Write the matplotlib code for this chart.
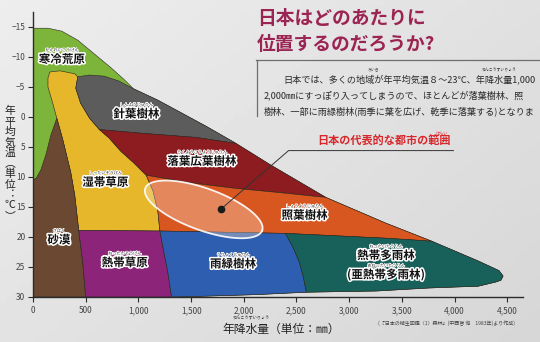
import numpy as np
import matplotlib
matplotlib.use("Agg")
import matplotlib.pyplot as plt
from matplotlib.patches import Polygon
import matplotlib.patheffects as pe

plt.rcParams['font.family'] = ['Noto Sans CJK JP', 'DejaVu Sans']

# 植生帯の境界 (年降水量 mm, 年平均気温 ℃)
outline = [(0, -14.8), (142, -14.8), (274, -14.3), (425, -12.8), (583, -10.5),
           (741, -8.2), (861, -6.3), (954, -4.7), (1185, -2.8), (1417, -0.6),
           (1648, 1.6), (1926, 4.4), (2255, 8.0), (2779, 13.4), (3349, 17.7),
           (3784, 20.7), (4225, 24.0), (4422, 25.6), (4461, 26.5), (4441, 27.2),
           (4392, 27.5), (4225, 28.2), (3755, 28.5), (3260, 29.0), (2594, 29.2),
           (2120, 29.6), (1556, 29.9), (1315, 30), (0, 30)]
conifer = [(425, -6.7), (537, -7.0), (676, -6.8), (815, -6.0), (954, -4.7),
           (1185, -2.8), (1417, -0.6), (1648, 1.6), (1926, 4.4), (1545, 3.4),
           (1093, 2.8), (630, 2.1), (537, 0.2), (452, -2.3), (406, -4.8)]
deciduous = [(630, 2.1), (1093, 2.8), (1545, 3.4), (1926, 4.4), (2255, 8.0),
             (2779, 13.4), (2396, 12.7), (1926, 11.9), (1463, 10.9), (1074, 9.7),
             (954, 7.6), (833, 5.7), (722, 3.5)]
laurel = [(1074, 9.7), (1463, 10.9), (1926, 11.9), (2396, 12.7), (2779, 13.4),
          (3349, 17.7), (3784, 20.7), (3349, 20.2), (2875, 19.8), (2396, 19.4),
          (1204, 19.0), (1185, 15.7), (1139, 12.3)]
steppe = [(160, -7.5), (255, -7.7), (396, -7.2), (425, -6.7), (406, -4.8),
          (452, -2.3), (537, 0.2), (630, 2.1), (722, 3.5), (833, 5.7), (954, 7.6),
          (1074, 9.7), (1139, 12.3), (1185, 15.7), (1204, 19.0), (434, 18.9),
          (396, 13.0), (358, 9.2), (330, 7.2), (283, 3.8), (226, 0.2),
          (179, -2.8), (142, -5.0), (142, -6.5)]
desert = [(226, 0.2), (283, 3.8), (330, 7.2), (358, 9.2), (396, 13.0), (434, 18.9),
          (472, 24.2), (500, 30), (0, 30), (0, 10.5), (30, 10.2), (75, 8.8),
          (122, 6.3), (170, 3.0)]
savanna = [(434, 18.9), (1204, 19.0), (1241, 22.4), (1278, 25.7), (1315, 30),
           (500, 30), (472, 24.2)]
raingreen = [(1204, 19.0), (2396, 19.4), (2467, 21.7), (2528, 24.2), (2566, 26.7),
             (2594, 29.2), (2120, 29.6), (1556, 29.9), (1315, 30), (1278, 25.7),
             (1241, 22.4)]
rainforest = [(2396, 19.4), (2875, 19.8), (3349, 20.2), (3784, 20.7), (4225, 24.0),
              (4422, 25.6), (4461, 26.5), (4441, 27.2), (4392, 27.5), (4225, 28.2),
              (3755, 28.5), (3260, 29.0), (2594, 29.2), (2566, 26.7), (2528, 24.2),
              (2467, 21.7)]

zones = [
    (outline, '#7db43a'),
    (steppe, '#e6b62b'),
    (conifer, '#5c5c5c'),
    (deciduous, '#8d1c20'),
    (laurel, '#d8561f'),
    (desert, '#6b4831'),
    (savanna, '#8c2479'),
    (raingreen, '#2e5eaf'),
    (rainforest, '#18605a'),
]

# ラベル: (文字, ふりがな, 降水量, 気温)
labels = [
    ('寒冷荒原', 'かんれいこうげん', 273, -9.6),
    ('針葉樹林', 'しんようじゅりん', 981, -0.5),
    ('落葉広葉樹林', 'らくようこうようじゅりん', 1602, 7.4),
    ('湿帯草原', 'しったいそうげん', 686, 10.9),
    ('照葉樹林', 'しょうようじゅりん', 2577, 16.4),
    ('砂漠', 'さばく', 245, 20.5),
    ('熱帯草原', 'ねったいそうげん', 870, 24.3),
    ('雨緑樹林', 'うりょくじゅりん', 1898, 24.5),
    ('熱帯多雨林', 'ねったいたうりん', 3349, 23.1),
    ('(亜熱帯多雨林)', 'あねったいたうりん', 3349, 26.3),
]

# 日本の代表的な都市の範囲 (楕円)
city_center = (1620, 15.4)
city_major = (555, 3.5)
city_minor = (-65, 3.3)
city_dot = (1787, 15.3)
leader_corner = (2425, 5.6)
leader_end = 3990

x_ticks = [0, 500, 1000, 1500, 2000, 2500, 3000, 3500, 4000, 4500]
x_ticklabels = ['0', '500', '1,000', '1,500', '2,000', '2,500', '3,000',
                '3,500', '4,000', '4,500']
y_ticks = [-15, -10, -5, 0, 5, 10, 15, 20, 25, 30]

W, H = 540, 342
fig = plt.figure(figsize=(W / 100, H / 100), dpi=100)
fig.patch.set_facecolor('#e3e2df')

# 紙の背景のグラデーション
bg = fig.add_axes([0, 0, 1, 1], zorder=-10)
gy, gx = np.mgrid[0:1:60j, 0:1:90j]
bg.imshow(0.93 - 0.05 * gx - 0.04 * gy, cmap='gray', vmin=0, vmax=1,
          aspect='auto', extent=[0, 1, 0, 1])
bg.axis('off')


def fx(px):
    return px / W


def fy(py):
    return 1 - py / H


ax = fig.add_axes([fx(33), fy(297), fx(523) - fx(33), (297 - 12) / H])
ax.patch.set_alpha(0)
ax.set_xlim(0, 4650)
ax.set_ylim(30, -17.5)

for pts, col in zones:
    ax.add_patch(Polygon(pts, closed=True, facecolor=col, edgecolor='#2a2420',
                         lw=0.4, joinstyle='round', zorder=2))

# 都市の範囲の楕円
t = np.linspace(0, 2 * np.pi, 200)
ex = city_center[0] + city_major[0] * np.cos(t) + city_minor[0] * np.sin(t)
ey = city_center[1] + city_major[1] * np.cos(t) + city_minor[1] * np.sin(t)
ax.fill(ex, ey, facecolor='#fbe3d3', alpha=0.35, zorder=3, lw=0)
ax.plot(ex, ey, color='white', lw=1.3, alpha=0.9, zorder=3)

ax.plot([city_dot[0], leader_corner[0], leader_end],
        [city_dot[1], leader_corner[1], leader_corner[1]],
        color='#333333', lw=0.7, zorder=4)
ax.plot(*city_dot, 'o', color='#1a1a1a', ms=4.5, zorder=5)
ax.text(3330, leader_corner[1] - 0.4, '日本の代表的な都市の範囲', color='#d8262b',
        fontsize=8, fontweight='bold', ha='center', va='bottom', zorder=5)
ax.text(3880, leader_corner[1] - 2.5, 'はんい', color='#d8262b', fontsize=3,
        ha='center', va='bottom', zorder=5)

stroke = [pe.withStroke(linewidth=2.2, foreground='white')]
thin = [pe.withStroke(linewidth=1.0, foreground='white')]
for name, kana, x, y in labels:
    ax.text(x, y, name, fontsize=8.3, fontweight='bold', color='#111111',
            ha='center', va='center', path_effects=stroke, zorder=6)
    ax.text(x, y - 1.55, kana, fontsize=3, color='#222222', ha='center',
            va='center', path_effects=thin, zorder=6)

for s in ['top', 'right']:
    ax.spines[s].set_visible(False)
for s in ['left', 'bottom']:
    ax.spines[s].set_color('#2b2b2b')
    ax.spines[s].set_linewidth(1.0)
ax.set_xticks(x_ticks)
ax.set_xticklabels(x_ticklabels)
ax.set_yticks(y_ticks)
ax.tick_params(direction='out', length=3.5, width=0.8, colors='#2b2b2b',
               labelsize=6, labelcolor='#444444')
ax.tick_params(axis='y', pad=2)
ax.tick_params(axis='x', pad=3)

# 縦書きの軸ラベル
ylab = '年平均気温︵単位︓℃︶'
for i, ch in enumerate(ylab):
    fig.text(fx(10), fy(111 + 10.5 * i), ch, fontsize=7.8, color='#222222',
             ha='center', va='center')

fig.text(fx(281), fy(329), '年降水量（単位：㎜）', fontsize=8.5, color='#222222',
         ha='center', va='center')
fig.text(fx(251), fy(318), 'ねんこうすいりょう', fontsize=3, color='#333333',
         ha='center', va='center')
fig.text(fx(378), fy(323), '(『日本の植生図鑑〈1〉森林』(中西哲 他　1983年)より作成)',
         fontsize=3.6, color='#444444', ha='left', va='center')

# タイトルと説明文
fig.text(fx(257), fy(18), '日本はどのあたりに', fontsize=13.5, fontweight='bold',
         color='#9b2452', ha='left', va='center')
fig.text(fx(257), fy(44), '位置するのだろうか?', fontsize=13.5, fontweight='bold',
         color='#9b2452', ha='left', va='center')
fig.add_artist(plt.Line2D([fx(256), 1], [fy(60), fy(60)], color='#6e6e6e', lw=0.9))
fig.add_artist(plt.Line2D([fx(257), fx(257)], [fy(60), fy(116)], color='#6e6e6e',
                          lw=0.9))
body = [
    (283, 79, '日本では、多くの地域が年平均気温８～23℃、年降水量1,000'),
    (264, 95, '2,000㎜にすっぽり入ってしまうので、ほとんどが落葉樹林、照'),
    (264, 111, '樹林、一部に雨緑樹林(雨季に葉を広げ、乾季に落葉する)となりま'),
]
for px, py, line in body:
    fig.text(fx(px), fy(py), line, fontsize=6.6, color='#2a2a2a',
             ha='left', va='center')
fig.text(fx(368), fy(70), 'ちいき', fontsize=2.8, color='#333333', ha='left',
         va='center')
fig.text(fx(482), fy(70), 'ねんこうすいりょう', fontsize=2.8, color='#333333',
         ha='left', va='center')

fig.savefig('out.png', dpi=100, facecolor=fig.get_facecolor())
